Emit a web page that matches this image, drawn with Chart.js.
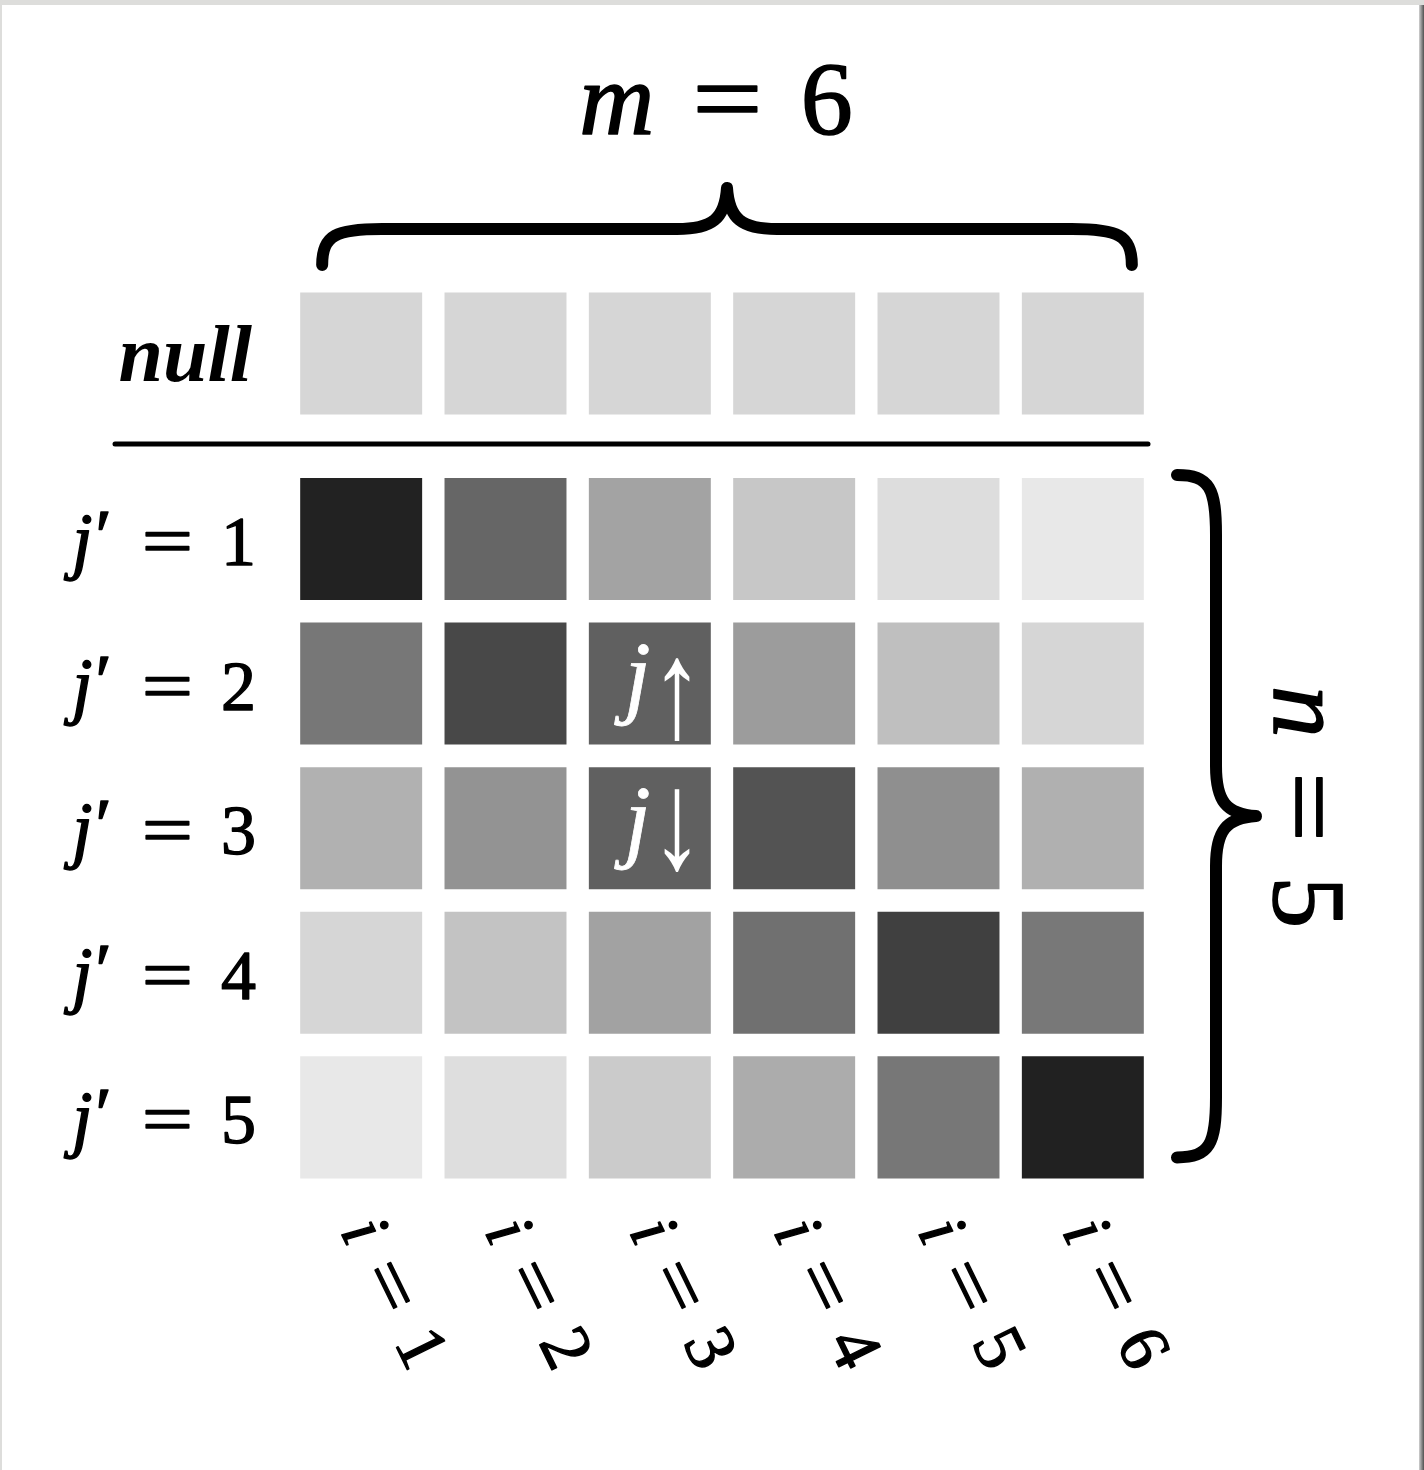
<!DOCTYPE html>
<html>
<head>
<meta charset="utf-8">
<script src="https://cdn.jsdelivr.net/npm/chart.js@4/dist/chart.umd.min.js"></script>
<style>
  html, body { margin: 0; padding: 0; background: #ffffff; }
  #c { display: block; }
</style>
</head>
<body>
<canvas id="c" width="1424" height="1470"></canvas>
<script>
// ---------- data ----------
const columnLabels = ['1', '2', '3', '4', '5', '6'];          // i = 1..6
const rowLabels    = ['1', '2', '3', '4', '5'];               // j' = 1..5
const nullLabel    = 'null';
// grey level of each cell (0 = black, 255 = white)
const nullRow = [214, 214, 214, 214, 214, 214];
const row1    = [ 34, 102, 163, 199, 221, 232];
const row2    = [119,  72,  96, 156, 191, 214];
const row3    = [177, 147,  96,  83, 143, 176];
const row4    = [214, 195, 162, 112,  64, 120];
const row5    = [232, 222, 203, 172, 119,  33];
const matrixRows = [row1, row2, row3, row4, row5];
// special cell annotations: [rowIndex (0-based), colIndex, arrow]
const cellMarks = [[1, 2, '↑'], [2, 2, '↓']];
const mValue = 6;
const nValue = 5;

// ---------- geometry of rows on the value axis ----------
const HALF = 0.422;        // half height of a cell in row units
const NULL_POS = -0.283;   // position of the null row
const RULE_POS = 0.343;    // separator line

const grey = g => `rgb(${g},${g},${g})`;

const datasets = [];
datasets.push({
  label: nullLabel,
  data: nullRow.map(() => [NULL_POS - HALF, NULL_POS + HALF]),
  backgroundColor: nullRow.map(grey)
});
matrixRows.forEach((vals, r) => {
  const pos = r + 1;
  datasets.push({
    label: "j' = " + rowLabels[r],
    data: vals.map(() => [pos - HALF, pos + HALF]),
    backgroundColor: vals.map(grey)
  });
});

const SERIF = '"Liberation Serif", "DejaVu Serif", serif';

function drawRuns(ctx, runs, x, y, align, weight) {
  // runs: {t, f, sx, sy, gap, dy}
  let total = 0;
  runs.forEach(r => {
    ctx.font = r.f;
    r.w = ctx.measureText(r.t).width * (r.sx || 1);
    total += (r.gap || 0) + r.w;
  });
  let cx = align === 'right' ? x - total : align === 'center' ? x - total / 2 : x;
  runs.forEach(r => {
    cx += r.gap || 0;
    ctx.font = r.f;
    ctx.save();
    ctx.translate(cx, y + (r.dy || 0));
    ctx.scale(r.sx || 1, r.sy || 1);
    ctx.textAlign = 'left';
    ctx.textBaseline = 'alphabetic';
    ctx.fillText(r.t, 0, 0);
    const lw = r.lw !== undefined ? r.lw : (weight || 0);
    if (lw > 0) {
      ctx.lineWidth = lw;
      ctx.strokeStyle = ctx.fillStyle;
      ctx.lineJoin = 'round';
      ctx.strokeText(r.t, 0, 0);
    }
    ctx.restore();
    cx += r.w;
  });
}

function bracePathH(ctx, x0, x1, yTip, yArm, yPeak) {
  const xm = (x0 + x1) / 2;
  ctx.beginPath();
  ctx.moveTo(x0, yTip);
  ctx.bezierCurveTo(x0, yArm + 6, x0 + 14, yArm, x0 + 60, yArm);
  ctx.lineTo(xm - 50, yArm);
  ctx.bezierCurveTo(xm - 15, yArm, xm - 2, yArm - 10, xm, yPeak);
  ctx.bezierCurveTo(xm + 2, yArm - 10, xm + 15, yArm, xm + 50, yArm);
  ctx.lineTo(x1 - 60, yArm);
  ctx.bezierCurveTo(x1 - 14, yArm, x1, yArm + 6, x1, yTip);
  ctx.stroke();
}

function bracePathV(ctx, y0, y1, xTip, xArm, xPeak, yMid) {
  ctx.beginPath();
  ctx.moveTo(xTip, y0);
  ctx.bezierCurveTo(xArm - 6, y0, xArm, y0 + 14, xArm, y0 + 60);
  ctx.lineTo(xArm, yMid - 50);
  ctx.bezierCurveTo(xArm, yMid - 15, xArm + 10, yMid - 2, xPeak, yMid);
  ctx.bezierCurveTo(xArm + 10, yMid + 2, xArm, yMid + 15, xArm, yMid + 50);
  ctx.lineTo(xArm, y1 - 60);
  ctx.bezierCurveTo(xArm, y1 - 14, xArm - 6, y1, xTip, y1);
  ctx.stroke();
}

const decor = {
  id: 'decor',
  beforeDraw(chart) {
    const ctx = chart.ctx;
    ctx.save();
    ctx.fillStyle = '#ffffff';
    ctx.fillRect(0, 0, chart.width, chart.height);
    ctx.fillStyle = '#dddddb';
    ctx.fillRect(0, 0, chart.width, 5);
    ctx.fillRect(0, 0, 2, chart.height);
    const g = ctx.createLinearGradient(chart.width - 5, 0, chart.width, 0);
    g.addColorStop(0, '#d0d0d0');
    g.addColorStop(1, '#505050');
    ctx.fillStyle = g;
    ctx.fillRect(chart.width - 5, 5, 5, chart.height);
    ctx.restore();
  },
  afterDraw(chart) {
    const ctx = chart.ctx;
    const xs = chart.scales.x, ys = chart.scales.y;
    const colX = i => xs.getPixelForValue(i);
    const rowY = v => ys.getPixelForValue(v);
    ctx.save();
    ctx.fillStyle = '#000';
    ctx.strokeStyle = '#000';
    ctx.lineCap = 'round';

    // separator rule
    const ry = rowY(RULE_POS);
    ctx.lineWidth = 5;
    ctx.beginPath();
    ctx.moveTo(115, ry);
    ctx.lineTo(1148, ry);
    ctx.stroke();

    // top brace
    ctx.lineWidth = 12;
    ctx.lineJoin = 'round';
    bracePathH(ctx, colX(0) - 39, colX(5) + 49, 265, 229, 188);

    // right brace
    const yTop = rowY(1 - HALF) - 3, yBot = rowY(5 + HALF) - 21;
    bracePathV(ctx, yTop, yBot, 1177, 1216, 1256, 816);

    // m = 6
    drawRuns(ctx, [
      { t: 'm', f: 'italic 104px ' + SERIF },
      { t: '=', f: '104px ' + SERIF, sx: 1.2, gap: 38 },
      { t: String(mValue), f: '104px ' + SERIF, gap: 38 }
    ], 716, 134, 'center', 1.6);

    // n = 5 (rotated)
    ctx.save();
    ctx.translate(1274, 807);
    ctx.rotate(Math.PI / 2);
    drawRuns(ctx, [
      { t: 'n', f: 'italic 104px ' + SERIF },
      { t: '=', f: '104px ' + SERIF, sx: 1.2, gap: 34 },
      { t: String(nValue), f: '104px ' + SERIF, gap: 34 }
    ], 0, 0, 'center', 1.6);
    ctx.restore();

    // null label
    drawRuns(ctx, [{ t: nullLabel, f: 'italic bold 80px ' + SERIF }], 252, rowY(NULL_POS) + 28, 'right', 0);

    // row labels j' = k
    rowLabels.forEach((lab, r) => {
      const y = rowY(r + 1) + 26;
      drawRuns(ctx, [
        { t: 'j', f: 'italic 74px ' + SERIF },
        { t: '′', f: '74px ' + SERIF, gap: 3, dy: -4 },
        { t: '=', f: '70px ' + SERIF, sx: 1.3, gap: 30 },
        { t: lab, f: '70px ' + SERIF, gap: 28 }
      ], 256, y, 'right', 1.4);
    });

    // column labels i = k (rotated)
    columnLabels.forEach((lab, c) => {
      ctx.save();
      ctx.translate(colX(c) + 35, 1292);
      ctx.rotate(64 * Math.PI / 180);
      drawRuns(ctx, [
        { t: 'i', f: 'italic 70px ' + SERIF },
        { t: '=', f: '70px ' + SERIF, sx: 1.3, gap: 26 },
        { t: lab, f: '70px ' + SERIF, gap: 26 }
      ], 0, 24, 'center', 1.4);
      ctx.restore();
    });

    // j-arrow marks in cells
    ctx.fillStyle = '#ffffff';
    cellMarks.forEach(([r, c, arrow]) => {
      const cx = colX(c), cy = rowY(r + 1);
      drawRuns(ctx, [
        { t: 'j', f: 'italic 94px ' + SERIF, lw: 0.8 },
        { t: arrow, f: '70px ' + SERIF, sx: 1.5, sy: 2.0, gap: 0, dy: arrow === '↑' ? 31 : 18, lw: 0 }
      ], cx + 14, cy + 22, 'center');
    });
    ctx.restore();
  }
};

new Chart(document.getElementById('c'), {
  type: 'bar',
  data: { labels: columnLabels.map(l => 'i = ' + l), datasets },
  options: {
    responsive: false,
    animation: false,
    events: [],
    layout: { padding: { left: 289, right: 269, top: 0, bottom: 0 } },
    datasets: {
      bar: { categoryPercentage: 1, barPercentage: 0.845, grouped: false, borderWidth: 0, borderSkipped: false }
    },
    scales: {
      x: { display: false, offset: true, grid: { display: false } },
      y: { display: false, reverse: true, min: -2.7275, max: 7.4385, grid: { display: false } }
    },
    plugins: { legend: { display: false }, tooltip: { enabled: false }, title: { display: false } }
  },
  plugins: [decor]
});
</script>
</body>
</html>
